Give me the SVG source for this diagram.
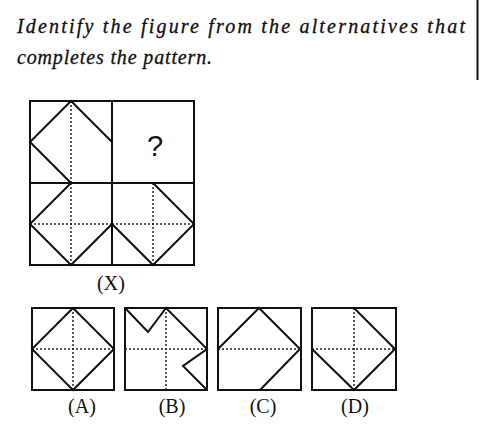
<svg xmlns="http://www.w3.org/2000/svg" width="480" height="440" viewBox="0 0 480 440">
<style>
.frame{fill:none;stroke:#111;stroke-width:2}
.ln{fill:none;stroke:#111;stroke-width:2;stroke-linejoin:miter;stroke-linecap:round}
.dot{fill:none;stroke:#222;stroke-width:1.5;stroke-dasharray:2 2}
.q{font-family:"Liberation Serif",serif;font-style:italic;font-size:20px;fill:#111;stroke:#111;stroke-width:0.3}
.lbl{font-family:"Liberation Serif",serif;font-size:20px;fill:#111;text-anchor:middle}
.qm{font-family:"Liberation Sans",Arial,sans-serif;font-size:29px;fill:#111;text-anchor:middle}
</style>
<rect width="480" height="440" fill="#fff"/>
<g id="question">
<text class="q" x="17" y="33" textLength="448" lengthAdjust="spacing">Identify the figure from the alternatives that</text>
<text class="q" x="17" y="64" textLength="195" lengthAdjust="spacing">completes the pattern.</text>
<line x1="477.5" y1="0" x2="477.5" y2="80" stroke="#111" stroke-width="2"/>
</g>
<g id="figure-X">
<rect class="frame" x="30" y="101" width="164" height="164"/>
<line class="frame" x1="112" y1="101" x2="112" y2="265"/>
<line class="frame" x1="30" y1="183" x2="194" y2="183"/>
<g id="cell-1">
<line class="dot" x1="71" y1="101" x2="71" y2="183"/>
<polyline class="ln" points="112,142 71,101 30,142 71,183"/>
</g>
<g id="cell-2">
<text class="qm" x="155" y="156">?</text>
</g>
<g id="cell-3">
<line class="dot" x1="71" y1="183" x2="71" y2="265"/>
<line class="dot" x1="30" y1="224" x2="112" y2="224"/>
<polyline class="ln" points="71,183 30,224 71,265 112,224"/>
</g>
<g id="cell-4">
<line class="dot" x1="153" y1="183" x2="153" y2="265"/>
<line class="dot" x1="112" y1="224" x2="194" y2="224"/>
<polyline class="ln" points="153,183 194,224 153,265 112,224"/>
</g>
<text class="lbl" x="111" y="290">(X)</text>
</g>
<g id="option-A">
<rect class="frame" x="32" y="308" width="82" height="82"/>
<line class="dot" x1="73" y1="308" x2="73" y2="390"/>
<line class="dot" x1="32" y1="349" x2="114" y2="349"/>
<polygon class="ln" points="73,308 114,349 73,390 32,349"/>
<text class="lbl" x="82" y="413">(A)</text>
</g>
<g id="option-B">
<rect class="frame" x="125" y="308" width="82" height="82"/>
<line class="dot" x1="166" y1="308" x2="166" y2="390"/>
<line class="dot" x1="125" y1="349" x2="207" y2="349"/>
<polyline class="ln" points="126,309 148,332 166,308 207,349 183,366 207,390"/>
<text class="lbl" x="172" y="413">(B)</text>
</g>
<g id="option-C">
<rect class="frame" x="218" y="308" width="83" height="82"/>
<line class="dot" x1="218" y1="349" x2="301" y2="349"/>
<polyline class="ln" points="218,349 259,308 300,349 260,390"/>
<text class="lbl" x="263" y="413">(C)</text>
</g>
<g id="option-D">
<rect class="frame" x="312" y="308" width="84" height="82"/>
<line class="dot" x1="354" y1="308" x2="354" y2="390"/>
<line class="dot" x1="312" y1="349" x2="396" y2="349"/>
<polyline class="ln" points="354,308 395,349 354,390 312,349"/>
<text class="lbl" x="355" y="413">(D)</text>
</g>
</svg>
